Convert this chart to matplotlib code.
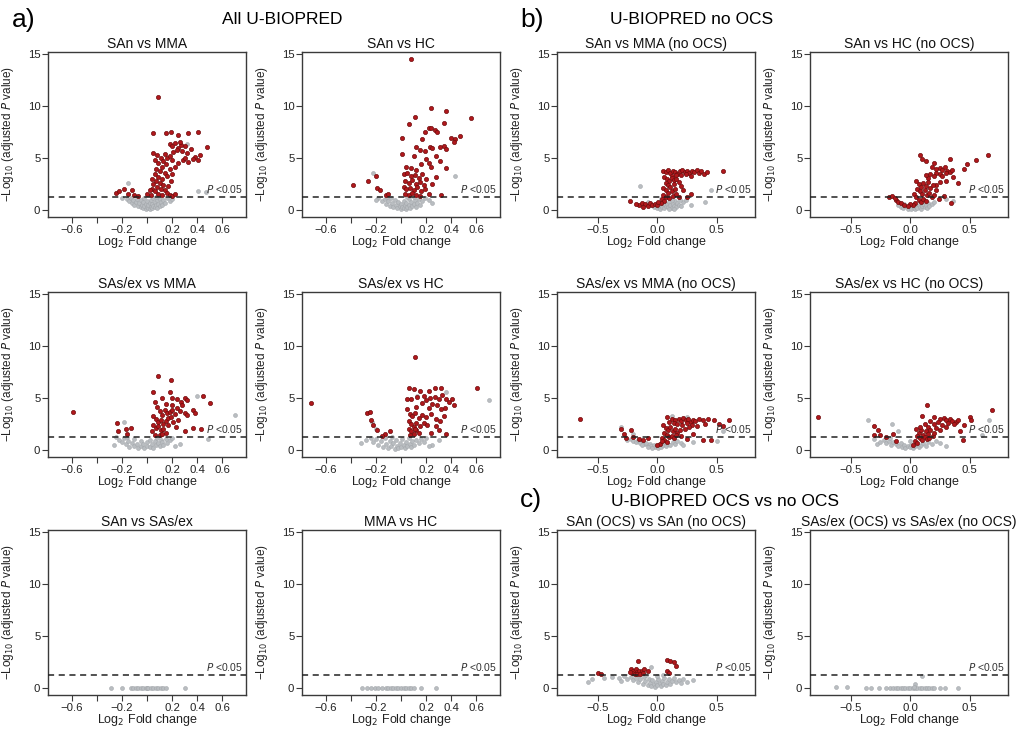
import matplotlib
matplotlib.use("Agg")
import matplotlib.pyplot as plt

plt.rcParams['font.family'] = ['Liberation Sans', 'DejaVu Sans']

# ---------------- data (log2 fold change, -log10 adjusted p) ----------------
# panel a) All U-BIOPRED
san_mma_red = [(0.09, 10.9), (0.05, 7.4), (0.15, 7.4), (0.19, 7.5), (0.25, 7.2), (0.33, 7.4), (0.41, 7.5),
               (0.18, 6.4), (0.2, 6.2), (0.22, 6.5), (0.25, 6.0), (0.27, 6.3), (0.3, 6.2), (0.24, 5.8),
               (0.28, 5.7), (0.32, 5.5), (0.35, 5.9), (0.26, 6.6), (0.21, 5.6), (0.48, 6.1),
               (0.38, 5.1), (0.41, 4.8), (0.37, 4.9), (0.33, 4.6), (0.29, 4.8), (0.25, 4.5), (0.42, 5.3), (0.3, 5.0),
               (0.05, 5.5), (0.08, 5.3), (0.11, 5.0), (0.13, 4.7), (0.06, 4.8), (0.09, 4.5), (0.12, 4.2),
               (0.15, 4.4), (0.07, 4.0), (0.1, 3.8), (0.14, 3.6), (0.06, 3.5), (0.09, 3.2), (0.12, 3.0),
               (0.16, 3.3), (0.04, 3.0), (0.07, 2.8), (0.1, 2.6), (0.13, 2.4), (0.05, 2.5), (0.08, 2.2),
               (0.11, 2.0), (0.14, 1.9), (0.04, 2.0), (0.06, 1.8), (0.09, 1.6), (0.12, 1.5), (0.16, 1.7),
               (0.18, 1.5), (0.03, 1.5), (0.17, 2.3), (0.19, 2.8), (0.2, 3.5), (0.18, 4.0), (0.22, 4.2),
               (0.16, 5.0), (0.2, 4.8), (0.14, 5.4), (0.18, 5.2), (0.2, 1.4), (0.22, 1.6),
               (-0.25, 1.7), (-0.22, 1.8), (-0.18, 2.0), (-0.15, 1.6), (-0.12, 1.9), (-0.1, 1.5), (-0.07, 1.4),
               (0.0, 1.6), (0.02, 1.9)]
san_mma_grey = [(-0.15, 2.6), (0.41, 1.85), (0.47, 1.75), (0.32, 6.4),
                (-0.16, 1.1), (-0.14, 0.9), (-0.13, 1.2), (-0.12, 0.7), (-0.11, 1.0), (-0.1, 0.5), (-0.09, 0.8),
                (-0.08, 1.1), (-0.07, 0.4), (-0.06, 0.7), (-0.05, 0.3), (-0.05, 1.0), (-0.04, 0.5), (-0.03, 0.2),
                (-0.03, 0.8), (-0.02, 0.4), (-0.01, 0.1), (-0.01, 0.6), (0.0, 0.3), (0.0, 0.9), (0.01, 0.2),
                (0.01, 0.5), (0.02, 0.1), (0.02, 0.7), (0.03, 0.3), (0.03, 1.0), (0.04, 0.2), (0.04, 0.6),
                (0.05, 0.4), (0.05, 1.2), (0.06, 0.3), (0.06, 0.8), (0.07, 0.5), (0.08, 0.2), (0.08, 1.0),
                (0.09, 0.6), (0.1, 0.4), (0.1, 1.1), (0.11, 0.8), (0.12, 0.5), (0.13, 1.0), (0.14, 0.7),
                (0.16, 1.2), (0.18, 0.9), (0.2, 1.1), (-0.2, 1.2), (-0.02, 1.2), (0.07, 1.25)]

san_hc_red = [(0.08, 14.5), (0.24, 9.8), (0.36, 9.5), (0.56, 8.9), (0.11, 9.0), (0.06, 8.3),
              (0.34, 8.4), (0.22, 7.9), (0.24, 7.9), (0.27, 7.7), (0.29, 7.5), (0.19, 7.5), (0.17, 6.8), (0.01, 6.9),
              (0.4, 6.9), (0.43, 6.8), (0.47, 7.1), (0.42, 6.6),
              (0.12, 6.1), (0.15, 5.8), (0.19, 5.7), (0.23, 6.1), (0.25, 6.0), (0.31, 6.1), (0.34, 6.2),
              (0.36, 5.9), (0.01, 5.4), (0.1, 5.2), (0.28, 5.2),
              (0.2, 4.9), (0.22, 4.5), (0.24, 4.2), (0.31, 4.7), (0.36, 4.1), (0.16, 4.4), (0.12, 3.9),
              (0.04, 4.2), (0.08, 4.1),
              (0.02, 3.5), (0.05, 3.6), (0.08, 3.3), (0.11, 3.4), (0.14, 3.1), (0.17, 3.5), (0.2, 3.0),
              (0.03, 2.8), (0.06, 2.6), (0.09, 2.9), (0.12, 2.5), (0.15, 2.7), (0.18, 2.4), (0.02, 2.2),
              (0.04, 2.0), (0.07, 2.1), (0.1, 1.9), (0.13, 2.2), (0.16, 1.8), (0.19, 2.0), (0.03, 1.6),
              (0.06, 1.5), (0.09, 1.7), (0.12, 1.5), (0.15, 1.4), (0.22, 1.6), (0.25, 2.5), (0.28, 3.2), (0.32, 1.5),
              (-0.38, 2.4), (-0.26, 2.8), (-0.2, 3.3), (-0.19, 2.1), (-0.17, 1.9), (-0.12, 1.5), (-0.1, 1.6)]
san_hc_grey = [(-0.22, 3.6), (0.43, 3.3), (0.25, 0.7), (-0.18, 1.2), (-0.15, 0.9), (-0.13, 1.1), (-0.12, 0.6),
               (-0.1, 0.9), (-0.09, 0.4), (-0.08, 1.2), (-0.07, 0.7), (-0.06, 0.3), (-0.05, 1.0), (-0.04, 0.5),
               (-0.03, 0.2), (-0.02, 0.8), (-0.01, 0.4), (0.0, 0.1), (0.0, 0.6), (0.01, 0.3), (0.02, 0.9),
               (0.02, 0.2), (0.03, 0.5), (0.04, 0.1), (0.04, 0.7), (0.05, 0.3), (0.06, 1.1), (0.06, 0.5),
               (0.07, 0.2), (0.08, 0.8), (0.09, 0.4), (0.1, 0.6), (0.11, 1.0), (0.12, 0.3), (0.13, 0.7),
               (0.14, 1.1), (0.15, 0.5), (0.17, 0.9), (0.19, 1.2), (-0.2, 1.0), (0.05, 1.3), (0.1, 1.25),
               (-0.11, 1.3), (0.22, 1.0)]

sasex_mma_red = [(-0.59, 3.7), (0.09, 7.1), (0.19, 6.7),
                 (0.05, 5.6), (0.12, 5.0), (0.18, 5.6), (0.2, 5.0), (0.24, 4.9), (0.27, 4.6), (0.3, 5.0),
                 (0.32, 4.8), (0.45, 5.2), (0.5, 4.5), (0.37, 3.9), (0.38, 3.6),
                 (0.06, 4.6), (0.08, 4.2), (0.1, 3.8), (0.12, 3.4), (0.14, 3.9), (0.16, 3.6), (0.18, 3.7),
                 (0.2, 3.9), (0.22, 3.5), (0.24, 4.1), (0.26, 3.8), (0.28, 4.3), (0.3, 3.6), (0.32, 3.4),
                 (0.15, 4.4), (0.2, 4.3), (0.05, 3.3), (0.07, 3.0), (0.09, 2.7), (0.11, 2.9), (0.13, 2.5),
                 (0.15, 2.8), (0.17, 3.1), (0.19, 3.2), (0.21, 2.7), (0.05, 2.4), (0.07, 2.1), (0.09, 2.3),
                 (0.11, 1.9), (0.13, 2.0), (0.15, 1.7), (0.04, 1.8), (0.06, 1.5), (0.1, 1.5), (0.12, 1.6),
                 (0.17, 2.4), (0.23, 2.2), (0.25, 2.9), (0.3, 1.8), (0.37, 2.1), (0.43, 2.0),
                 (-0.24, 2.6), (-0.23, 1.8), (-0.17, 2.0), (-0.13, 2.1), (-0.16, 1.6)]
sasex_mma_grey = [(-0.18, 2.7), (0.4, 5.2), (0.7, 3.4), (0.49, 1.05), (0.22, 0.4), (0.26, 0.6),
                  (-0.22, 1.0), (-0.2, 0.8), (-0.18, 1.2), (-0.17, 0.6), (-0.15, 0.9), (-0.14, 0.3),
                  (-0.12, 0.7), (-0.1, 1.1), (-0.1, 0.4), (-0.08, 0.6), (-0.07, 0.2), (-0.05, 0.9),
                  (-0.05, 0.4), (-0.03, 0.6), (-0.02, 0.2), (0.0, 0.8), (0.0, 0.4), (0.02, 0.3), (0.02, 1.0),
                  (0.04, 0.6), (0.05, 0.2), (0.06, 0.9), (0.07, 0.5), (0.08, 1.2), (0.09, 0.7), (0.1, 0.4),
                  (0.11, 1.0), (0.12, 0.8), (0.13, 0.5), (0.15, 1.1), (0.16, 0.7), (0.18, 1.0), (0.2, 1.2),
                  (-0.25, 1.3), (-0.16, 1.3), (-0.26, 0.5)]

sasex_hc_red = [(-0.72, 4.5), (0.11, 9.0),
                (0.06, 6.0), (0.1, 5.9), (0.15, 5.7), (0.22, 5.7), (0.27, 6.0), (0.32, 6.0), (0.61, 6.0),
                (0.05, 4.9), (0.08, 4.9), (0.13, 5.1), (0.18, 5.2), (0.2, 4.8), (0.23, 5.0), (0.27, 5.1),
                (0.3, 4.9), (0.33, 5.3), (0.36, 4.9), (0.38, 4.6), (0.41, 4.9), (0.42, 4.3), (0.35, 4.1),
                (0.32, 4.0), (0.29, 4.3), (0.25, 4.4), (0.22, 4.1), (0.17, 4.5), (0.12, 4.2),
                (0.05, 4.0), (0.07, 3.5), (0.09, 3.3), (0.11, 3.6), (0.14, 3.1), (0.17, 3.4), (0.2, 3.2),
                (0.24, 3.5), (0.28, 3.0), (0.31, 2.8), (0.34, 3.3), (0.06, 2.8), (0.08, 2.5), (0.1, 2.2),
                (0.12, 2.6), (0.15, 2.3), (0.18, 2.6), (0.21, 2.4), (0.06, 2.0), (0.08, 1.8), (0.1, 1.6),
                (0.12, 1.9), (0.14, 1.7), (0.07, 1.5), (0.11, 2.0), (0.28, 2.3), (0.3, 1.9), (0.36, 1.6),
                (0.24, 1.7),
                (-0.27, 3.6), (-0.25, 3.7), (-0.24, 2.9), (-0.22, 2.4), (-0.19, 1.9), (-0.13, 1.6),
                (-0.09, 1.8), (-0.15, 1.4)]
sasex_hc_grey = [(-0.23, 2.7), (-0.2, 2.0), (0.13, 5.2), (0.36, 5.6), (0.7, 4.8), (-0.32, 0.7), (0.3, 1.0),
                 (0.25, 0.5), (-0.28, 1.0), (-0.24, 1.2), (-0.22, 0.8), (-0.2, 1.1), (-0.18, 0.5),
                 (-0.16, 0.9), (-0.14, 0.3), (-0.13, 1.2), (-0.12, 0.6), (-0.1, 0.2), (-0.09, 0.9),
                 (-0.08, 0.4), (-0.06, 0.7), (-0.05, 0.1), (-0.04, 1.0), (-0.03, 0.4), (-0.02, 0.2),
                 (-0.01, 0.7), (0.0, 0.3), (0.01, 1.1), (0.02, 0.5), (0.03, 0.2), (0.04, 0.8), (0.05, 0.4),
                 (0.06, 1.2), (0.07, 0.6), (0.08, 0.3), (0.09, 0.9), (0.1, 0.5), (0.12, 1.0), (0.14, 0.7),
                 (0.16, 1.1), (0.18, 0.8), (0.2, 1.2), (0.22, 0.4), (-0.07, 1.3)]

san_sasex_red = []
san_sasex_grey = [(-0.29, 0.05), (-0.2, 0.05), (-0.13, 0.05), (-0.11, 0.03), (-0.09, 0.05), (-0.07, 0.02),
                  (-0.05, 0.05), (-0.03, 0.02), (-0.01, 0.04), (0.0, 0.01), (0.01, 0.05), (0.03, 0.02),
                  (0.05, 0.04), (0.07, 0.02), (0.09, 0.05), (0.11, 0.03), (0.13, 0.05), (0.15, 0.04),
                  (0.3, 0.05)]

mma_hc_red = []
mma_hc_grey = [(-0.31, 0.05), (-0.27, 0.05), (-0.24, 0.04), (-0.21, 0.05), (-0.18, 0.03), (-0.15, 0.05),
               (-0.12, 0.03), (-0.1, 0.05), (-0.08, 0.02), (-0.06, 0.04), (-0.04, 0.02), (-0.02, 0.05),
               (0.0, 0.02), (0.02, 0.04), (0.04, 0.03), (0.06, 0.05), (0.08, 0.03), (0.1, 0.05),
               (0.16, 0.05), (0.28, 0.05)]

# panel b) U-BIOPRED no OCS
san_mma_nocs_red = [(0.05, 3.8), (0.07, 3.7), (0.09, 3.9), (0.11, 3.6), (0.13, 3.8), (0.15, 3.7), (0.17, 3.5),
                    (0.19, 3.8), (0.21, 3.9), (0.23, 3.7), (0.25, 3.8), (0.27, 3.6), (0.29, 3.8), (0.31, 3.7),
                    (0.33, 3.9), (0.35, 3.6), (0.37, 3.8), (0.39, 3.5), (0.42, 3.7), (0.55, 3.8), (0.2, 3.4),
                    (0.24, 3.5), (0.28, 3.3), (0.12, 3.3), (0.16, 3.4),
                    (0.06, 3.2), (0.08, 3.0), (0.1, 2.8), (0.12, 3.1), (0.07, 2.6), (0.09, 2.4), (0.11, 2.2),
                    (0.14, 2.5), (0.05, 2.1), (0.07, 1.9), (0.09, 1.7), (0.12, 1.8), (0.15, 2.0), (0.18, 2.7),
                    (0.2, 2.3), (0.22, 1.9), (0.05, 1.5), (0.07, 1.3), (0.1, 1.2), (0.13, 1.4), (0.04, 1.1),
                    (0.06, 0.9), (0.03, 0.7), (0.16, 1.6), (0.18, 1.3), (0.25, 1.3), (0.28, 1.6), (0.14, 2.9),
                    (0.16, 3.0),
                    (-0.23, 0.9), (-0.15, 0.5), (-0.13, 0.7), (-0.1, 0.6), (-0.08, 0.45), (-0.06, 0.7),
                    (-0.04, 0.5), (-0.02, 0.6), (0.0, 0.55), (0.01, 0.8), (-0.12, 0.35), (-0.18, 0.6)]
san_mma_nocs_grey = [(-0.14, 2.3), (0.45, 1.9), (0.4, 0.8), (0.28, 0.5), (0.22, 0.8), (-0.05, 0.5),
                     (-0.03, 0.3), (-0.01, 0.6), (0.0, 0.2), (0.01, 0.4), (0.02, 0.1), (0.03, 0.5), (0.04, 0.3),
                     (0.05, 0.7), (0.06, 0.2), (0.07, 0.4), (0.08, 0.6), (0.09, 0.3), (0.1, 0.8), (0.11, 0.5),
                     (0.12, 0.2), (0.13, 0.6), (0.14, 0.4), (0.15, 0.9), (0.16, 0.3), (0.17, 0.7), (0.18, 0.5),
                     (0.19, 1.0), (0.2, 0.4), (0.12, 1.0), (0.06, 0.9), (-0.08, 0.8), (0.03, 1.1), (0.24, 1.0),
                     (0.1, 0.1), (0.14, 0.15)]

san_hc_nocs_red = [(0.65, 5.3), (0.55, 4.8), (0.48, 4.4), (0.45, 4.0),
                   (0.08, 5.3), (0.1, 4.9), (0.13, 4.7), (0.18, 4.2), (0.2, 4.5), (0.22, 4.0), (0.25, 4.1),
                   (0.27, 3.9), (0.29, 4.2), (0.31, 3.8), (0.33, 4.9), (0.33, 3.7), (0.35, 3.9), (0.36, 3.2),
                   (0.25, 3.5), (0.27, 3.3), (0.3, 3.6), (0.22, 3.6), (0.2, 3.3), (0.17, 3.5), (0.15, 3.1),
                   (0.13, 3.4), (0.4, 2.6), (0.3, 2.8), (0.25, 2.7), (0.22, 2.4),
                   (0.05, 2.8), (0.07, 2.5), (0.09, 2.2), (0.11, 2.6), (0.13, 2.3), (0.15, 2.7), (0.17, 2.1),
                   (0.19, 2.4), (0.06, 2.0), (0.08, 1.8), (0.1, 1.6), (0.12, 1.9), (0.14, 1.5), (0.16, 1.7),
                   (0.18, 1.3), (0.2, 1.5), (0.22, 1.9), (0.24, 1.1), (0.03, 1.6), (0.05, 1.3), (0.07, 1.0),
                   (0.09, 0.8), (0.11, 1.1), (0.13, 0.9), (0.04, 0.7), (0.02, 0.5), (0.0, 0.6), (-0.02, 0.4),
                   (0.34, 0.7), (0.28, 1.4),
                   (-0.18, 1.3), (-0.15, 1.4), (-0.12, 1.0), (-0.1, 0.8), (-0.08, 0.7), (-0.05, 0.5), (-0.13, 1.2)]
san_hc_nocs_grey = [(0.3, 1.1), (0.36, 0.9), (-0.08, 0.3), (-0.06, 0.2), (-0.04, 0.4), (-0.02, 0.1), (0.0, 0.3),
                    (0.01, 0.15), (0.02, 0.4), (0.03, 0.2), (0.04, 0.1), (0.05, 0.35), (0.06, 0.2), (0.07, 0.5),
                    (0.08, 0.3), (0.09, 0.15), (0.1, 0.4), (0.11, 0.6), (0.12, 0.3), (0.13, 0.5), (0.14, 0.2),
                    (0.15, 0.7), (0.16, 0.4), (0.18, 0.6), (-0.1, 0.5), (-0.05, 0.6), (0.2, 0.8), (0.03, 0.6)]

sasex_mma_nocs_red = [(-0.65, 3.0),
                      (0.08, 3.2), (0.12, 3.0), (0.15, 2.9), (0.18, 3.0), (0.2, 2.8), (0.22, 3.1), (0.24, 2.9),
                      (0.26, 3.0), (0.28, 2.7), (0.3, 2.9), (0.32, 2.8), (0.35, 3.0), (0.38, 2.9), (0.4, 2.5),
                      (0.43, 3.0), (0.48, 2.9), (0.52, 2.5), (0.55, 2.3), (0.6, 2.9), (0.1, 2.7), (0.14, 2.6),
                      (0.17, 2.5), (0.21, 2.4), (0.25, 2.6), (0.29, 2.4), (0.33, 2.3), (0.27, 2.2), (0.23, 2.0),
                      (0.05, 2.4), (0.07, 2.1), (0.09, 1.9), (0.11, 2.2), (0.13, 1.8), (0.15, 2.0), (0.17, 1.7),
                      (0.19, 1.9), (0.06, 1.7), (0.08, 1.5), (0.1, 1.3), (0.12, 1.4), (0.14, 1.2), (0.16, 1.5),
                      (0.2, 1.4), (0.04, 1.2), (0.06, 1.0), (0.08, 0.8), (0.02, 0.6), (0.04, 0.9), (0.0, 0.5),
                      (0.25, 1.1), (0.38, 1.0), (0.45, 1.0), (0.3, 1.6),
                      (-0.3, 2.0), (-0.28, 1.6), (-0.22, 1.9), (-0.2, 1.3), (-0.15, 1.1), (-0.12, 1.0),
                      (-0.08, 1.2), (-0.26, 1.2)]
sasex_mma_nocs_grey = [(-0.3, 2.2), (-0.2, 1.6), (0.12, 3.3), (0.25, 3.2), (0.55, 1.8), (0.5, 0.9), (-0.25, 1.0),
                       (-0.22, 1.1), (-0.2, 0.9), (-0.18, 0.8), (-0.16, 1.0), (-0.14, 0.7), (-0.12, 0.8),
                       (-0.1, 0.6), (-0.09, 0.7), (-0.07, 0.5), (-0.06, 0.6), (-0.05, 0.4), (-0.03, 0.5),
                       (-0.02, 0.3), (0.0, 0.4), (0.01, 0.2), (0.03, 0.3), (0.05, 0.5), (0.07, 0.4), (0.09, 0.6),
                       (0.11, 0.5), (0.13, 0.8), (0.15, 0.6), (0.17, 0.9), (0.2, 0.7), (0.22, 0.5), (-0.13, 0.5),
                       (-0.08, 0.35), (-0.04, 0.25), (0.02, 0.6), (0.06, 0.75), (0.3, 0.8)]

sasex_hc_nocs_red = [(-0.77, 3.2), (0.69, 3.9), (0.14, 4.3),
                     (0.1, 3.3), (0.2, 3.2), (0.25, 3.0), (0.28, 3.1), (0.3, 2.9), (0.33, 3.0), (0.35, 2.8),
                     (0.38, 2.7), (0.4, 2.9), (0.5, 3.2), (0.51, 2.9), (0.45, 2.4), (0.42, 1.8), (0.44, 1.0),
                     (0.37, 2.5), (0.32, 2.6), (0.27, 2.4), (0.23, 2.7), (0.2, 2.5), (0.17, 2.8), (0.15, 2.2),
                     (0.12, 2.5), (0.22, 2.1), (0.3, 2.2), (0.25, 1.9),
                     (0.05, 2.0), (0.07, 1.7), (0.09, 1.9), (0.11, 1.5), (0.13, 1.8), (0.15, 1.6), (0.17, 1.9),
                     (0.19, 1.4), (0.06, 1.4), (0.08, 1.2), (0.1, 1.0), (0.12, 1.3), (0.14, 1.1), (0.04, 0.9),
                     (0.06, 0.7), (0.02, 0.5), (0.16, 1.2), (0.2, 1.7), (0.08, 2.2),
                     (-0.3, 2.3), (-0.27, 1.9), (-0.25, 1.5), (-0.2, 1.3), (-0.14, 1.6), (-0.12, 0.9), (-0.3, 1.5)]
sasex_hc_nocs_grey = [(-0.35, 2.9), (-0.15, 2.5), (0.66, 2.9), (0.6, 1.5), (-0.1, 1.8), (0.3, 0.4), (-0.28, 0.6),
                      (-0.25, 0.8), (-0.22, 1.0), (-0.2, 0.7), (-0.18, 0.9), (-0.16, 0.5), (-0.14, 0.8),
                      (-0.12, 0.6), (-0.1, 0.4), (-0.08, 0.7), (-0.07, 0.3), (-0.05, 0.5), (-0.04, 0.2),
                      (-0.02, 0.4), (0.0, 0.3), (0.01, 0.5), (0.02, 0.2), (0.04, 0.4), (0.05, 0.6), (0.07, 0.3),
                      (0.09, 0.5), (0.11, 0.7), (0.13, 0.4), (0.15, 0.8), (0.18, 0.6), (0.22, 0.9), (0.25, 0.7),
                      (-0.3, 1.1), (-0.17, 1.2), (0.0, 0.9)]

# panel c) OCS vs no OCS
san_ocs_red = [(-0.5, 1.5), (-0.47, 1.4), (-0.16, 2.6), (-0.22, 1.8), (-0.2, 1.7), (-0.18, 1.8), (-0.17, 1.6),
               (-0.15, 1.7), (-0.13, 1.7), (-0.11, 1.8), (-0.21, 1.5), (-0.19, 1.4), (-0.17, 1.4), (-0.14, 1.4),
               (-0.23, 1.6), (-0.08, 1.7), (-0.12, 1.5), (0.08, 2.7), (0.11, 2.6), (0.14, 2.5), (0.16, 2.1),
               (0.08, 1.7), (0.1, 1.5)]
san_ocs_grey = [(-0.58, 0.6), (-0.55, 0.9), (-0.45, 1.0), (-0.38, 1.1), (-0.32, 1.0), (-0.28, 1.2), (-0.25, 0.9),
                (-0.22, 1.1), (-0.2, 0.8), (-0.18, 1.0), (-0.16, 0.6), (-0.14, 0.9), (-0.12, 0.4), (-0.11, 1.1),
                (-0.1, 0.7), (-0.08, 0.3), (-0.07, 0.9), (-0.06, 0.5), (-0.05, 0.2), (-0.04, 0.8), (-0.03, 0.4),
                (-0.02, 0.1), (-0.01, 0.6), (0.0, 0.3), (0.01, 0.9), (0.02, 0.5), (0.03, 0.2), (0.04, 0.7),
                (0.05, 0.4), (0.06, 1.0), (0.07, 0.3), (0.08, 0.6), (0.1, 0.9), (0.11, 0.4), (0.12, 0.7),
                (0.14, 1.0), (0.16, 0.6), (0.18, 0.8), (0.2, 0.5), (0.22, 0.9), (0.25, 0.6), (0.3, 0.8),
                (-0.3, 0.7), (-0.09, 1.3), (0.0, 1.2), (-0.15, 1.25), (-0.05, 2.0), (0.05, 1.25)]

sasex_ocs_red = []
sasex_ocs_grey = [(-0.62, 0.15), (-0.53, 0.15), (-0.37, 0.05), (-0.33, 0.05), (-0.26, 0.05), (-0.2, 0.05),
                  (-0.17, 0.05), (-0.14, 0.02), (-0.12, 0.05), (-0.1, 0.02), (-0.08, 0.05), (-0.06, 0.02),
                  (-0.04, 0.05), (-0.02, 0.02), (0.0, 0.05), (0.02, 0.02), (0.04, 0.05), (0.06, 0.02),
                  (0.08, 0.05), (0.1, 0.02), (0.12, 0.05), (0.14, 0.02), (0.16, 0.05), (0.18, 0.05),
                  (0.2, 0.05), (0.25, 0.05), (0.29, 0.05), (0.4, 0.05), (0.04, 0.4), (0.1, 1.2), (0.03, 0.15)]

# (title, red, grey, column, row, scale)
panels = [
    ("SAn vs MMA", san_mma_red, san_mma_grey, 0, 0, "a"),
    ("SAn vs HC", san_hc_red, san_hc_grey, 1, 0, "a"),
    ("SAs/ex vs MMA", sasex_mma_red, sasex_mma_grey, 0, 1, "a"),
    ("SAs/ex vs HC", sasex_hc_red, sasex_hc_grey, 1, 1, "a"),
    ("SAn vs SAs/ex", san_sasex_red, san_sasex_grey, 0, 2, "a"),
    ("MMA vs HC", mma_hc_red, mma_hc_grey, 1, 2, "a"),
    ("SAn vs MMA (no OCS)", san_mma_nocs_red, san_mma_nocs_grey, 2, 0, "b"),
    ("SAn vs HC (no OCS)", san_hc_nocs_red, san_hc_nocs_grey, 3, 0, "b"),
    ("SAs/ex vs MMA (no OCS)", sasex_mma_nocs_red, sasex_mma_nocs_grey, 2, 1, "b"),
    ("SAs/ex vs HC (no OCS)", sasex_hc_nocs_red, sasex_hc_nocs_grey, 3, 1, "b"),
    ("SAn (OCS) vs SAn (no OCS)", san_ocs_red, san_ocs_grey, 2, 2, "b"),
    ("SAs/ex (OCS) vs SAs/ex (no OCS)", sasex_ocs_red, sasex_ocs_grey, 3, 2, "b"),
]

W, H = 1017, 731
fig = plt.figure(figsize=(W / 100, H / 100), dpi=100)

col_left = [48, 302, 557, 810]
row_top = [52, 292, 530]
ax_w, ax_h = 198, 165
edge = '#3a3a3a'

for title, red, grey, c, r, kind in panels:
    ax = fig.add_axes([col_left[c] / W, 1 - (row_top[r] + ax_h) / H, ax_w / W, ax_h / H])
    if grey:
        gx, gy = zip(*grey)
        ax.scatter(gx, gy, s=8, c='#b9bdc1', edgecolors='#a3a7ab', linewidths=0.4, zorder=2)
    if red:
        rx, ry = zip(*red)
        ax.scatter(rx, ry, s=9, c='#b0181c', edgecolors='#6e0c0c', linewidths=0.5, zorder=3)
    ax.axhline(1.3, color='#222222', lw=1.1, ls=(0, (4, 3)), zorder=4)

    if kind == "a":
        ax.set_xlim(-0.79, 0.79)
        ax.set_xticks([-0.6, -0.4, -0.2, 0, 0.2, 0.4, 0.6])
        ax.set_xticklabels(['\u22120.6', '', '\u22120.2', '', '0.2', '0.4', '0.6'])
    else:
        ax.set_xlim(-0.84, 0.82)
        ax.set_xticks([-0.5, 0, 0.5])
        ax.set_xticklabels(['\u22120.5', '0.0', '0.5'])
    ax.set_ylim(-0.65, 15.2)
    ax.set_yticks([0, 5, 10, 15])

    ax.text(0.985, 2.0, '$P$ <0.05', transform=ax.get_yaxis_transform(),
            ha='right', va='center', fontsize=7.5, color='#333333')

    for sp in ax.spines.values():
        sp.set_color(edge)
        sp.set_linewidth(1.0)
    ax.tick_params(direction='out', length=4, width=0.8, colors=edge, labelsize=8.2,
                   labelcolor='#222222', pad=1.5)
    ax.set_title(title, fontsize=10, pad=3, color='#111111')
    ax.set_xlabel('Log$_2$ Fold change', fontsize=9, color='#222222')
    ax.set_ylabel('\u2212Log$_{10}$ (adjusted $P$ value)', fontsize=8.5, color='#222222')
    ax.xaxis.set_label_coords(0.5, -0.105)
    ax.yaxis.set_label_coords(-0.16, 0.5)

# section headings
fig.text(12 / W, 1 - 20 / H, 'a)', fontsize=19, va='center', ha='left')
fig.text(282 / W, 1 - 20 / H, 'All U-BIOPRED', fontsize=12.5, va='center', ha='center')
fig.text(520 / W, 1 - 20 / H, 'b)', fontsize=19, va='center', ha='left')
fig.text(692 / W, 1 - 20 / H, 'U-BIOPRED no OCS', fontsize=12.5, va='center', ha='center')
fig.text(520 / W, 1 - 500 / H, 'c)', fontsize=19, va='center', ha='left')
fig.text(725 / W, 1 - 502 / H, 'U-BIOPRED OCS vs no OCS', fontsize=12.5, va='center', ha='center')

fig.savefig('out.png', dpi=100)
